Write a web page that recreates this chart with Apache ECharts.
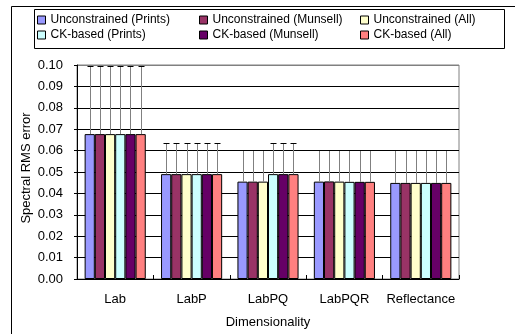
<!DOCTYPE html>
<html>
<head>
<meta charset="utf-8">
<script src="https://cdn.jsdelivr.net/npm/echarts@6/dist/echarts.min.js"></script>
<style>html,body{margin:0;padding:0;background:#fff;}#c{width:515px;height:334px;}</style>
</head>
<body>
<div id="c"></div>
<script>
const categories = ['Lab', 'LabP', 'LabPQ', 'LabPQR', 'Reflectance'];
const seriesNames = ['Unconstrained (Prints)', 'Unconstrained (Munsell)', 'Unconstrained (All)',
                     'CK-based (Prints)', 'CK-based (Munsell)', 'CK-based (All)'];
const colors = ['#9999FF', '#993366', '#FFFFCC', '#CCFFFF', '#660066', '#FF8080'];
// mean values
const unconPrints  = [0.0677, 0.0490, 0.0455, 0.0455, 0.0449];
const unconMunsell = [0.0677, 0.0490, 0.0455, 0.0456, 0.0449];
const unconAll     = [0.0677, 0.0490, 0.0455, 0.0455, 0.0449];
const ckPrints     = [0.0677, 0.0490, 0.0490, 0.0454, 0.0449];
const ckMunsell    = [0.0677, 0.0490, 0.0490, 0.0454, 0.0449];
const ckAll        = [0.0677, 0.0490, 0.0490, 0.0454, 0.0449];
// upper ends of error bars
const unconPrintsUp  = [0.0995, 0.0637, 0.0605, 0.0605, 0.0605];
const unconMunsellUp = [0.0995, 0.0637, 0.0605, 0.0605, 0.0605];
const unconAllUp     = [0.0995, 0.0637, 0.0605, 0.0605, 0.0605];
const ckPrintsUp     = [0.0995, 0.0637, 0.0637, 0.0605, 0.0605];
const ckMunsellUp    = [0.0995, 0.0637, 0.0637, 0.0605, 0.0605];
const ckAllUp        = [0.0995, 0.0637, 0.0637, 0.0605, 0.0605];
const yTicks = [0, 0.01, 0.02, 0.03, 0.04, 0.05, 0.06, 0.07, 0.08, 0.09, 0.10];

const values = [unconPrints, unconMunsell, unconAll, ckPrints, ckMunsell, ckAll];
const uppers = [unconPrintsUp, unconMunsellUp, unconAllUp, ckPrintsUp, ckMunsellUp, ckAllUp];
const FONT = "'Liberation Sans', Arial, sans-serif";
const N = seriesNames.length;
const catGap = 0.2;

const series = [];
values.forEach((vals, i) => {
  series.push({
    type: 'bar', name: seriesNames[i], data: vals,
    barGap: '0%', barCategoryGap: (catGap * 100) + '%',
    itemStyle: { color: colors[i], borderColor: '#000', borderWidth: 1 },
    z: 2
  });
});
values.forEach((vals, i) => {
  series.push({
    type: 'custom',
    data: categories.map((c, j) => [j, vals[j], uppers[i][j]]),
    renderItem: function (params, api) {
      const cat = api.value(0), lo = api.value(1), hi = api.value(2);
      const top = api.coord([cat, hi]);
      const bot = api.coord([cat, lo]);
      const bw = api.size([1, 0])[0] * (1 - catGap) / N;
      const x = Math.round(top[0] + (i - (N - 1) / 2) * bw) + 0.5;
      const yt = Math.round(top[1]) + 0.5;
      return {
        type: 'group', children: [
          { type: 'line', shape: { x1: x, y1: bot[1], x2: x, y2: yt }, style: { stroke: '#808080', lineWidth: 1 } },
          { type: 'line', shape: { x1: x - 3, y1: yt, x2: x + 3, y2: yt }, style: { stroke: '#000', lineWidth: 1 } }
        ]
      };
    },
    z: 3, silent: true
  });
});

const legendCommon = {
  orient: 'vertical', top: 14, itemWidth: 8, itemHeight: 8, itemGap: 3, padding: 0,
  icon: 'rect',
  textStyle: { fontFamily: FONT, fontSize: 12, color: '#000' },
  itemStyle: { borderColor: '#000', borderWidth: 1 }
};
const splitColors = yTicks.map((t, k) => k === yTicks.length - 1 ? '#808080' : '#000');

const chart = echarts.init(document.getElementById('c'), null, { renderer: 'canvas' });
chart.setOption({
  animation: false,
  backgroundColor: '#fff',
  color: colors,
  legend: [
    Object.assign({}, legendCommon, { left: 37, data: [seriesNames[0], seriesNames[3]] }),
    Object.assign({}, legendCommon, { left: 199, data: [seriesNames[1], seriesNames[4]] }),
    Object.assign({}, legendCommon, { left: 360, data: [seriesNames[2], seriesNames[5]] })
  ],
  grid: { left: 77, right: 56, top: 65, bottom: 55, show: true, borderColor: '#808080', borderWidth: 1, backgroundColor: '#fff' },
  xAxis: {
    type: 'category', data: categories,
    name: 'Dimensionality', nameLocation: 'middle', nameGap: 37, nameMoveOverlap: false,
    nameTextStyle: { fontFamily: FONT, fontSize: 13, color: '#000' },
    axisLine: { lineStyle: { color: '#000', width: 1 } },
    axisTick: { show: true, inside: true, length: 4, lineStyle: { color: '#000' } },
    axisLabel: { interval: 0, fontFamily: FONT, fontSize: 13, color: '#000', margin: 14 },
    splitLine: { show: false }
  },
  yAxis: {
    type: 'value', min: 0, max: 0.1, interval: 0.01,
    name: 'Spectral RMS error', nameLocation: 'middle', nameGap: 44, nameMoveOverlap: false,
    nameTextStyle: { fontFamily: FONT, fontSize: 13, color: '#000', padding: [0, 0, 0, 8] },
    axisLine: { show: true, lineStyle: { color: '#000', width: 1 } },
    axisTick: { show: true, inside: false, length: 3, lineStyle: { color: '#000' } },
    axisLabel: { fontFamily: FONT, fontSize: 13, color: '#000', margin: 14, formatter: v => v.toFixed(2) },
    splitLine: { show: true, lineStyle: { color: splitColors, width: 1 } }
  },
  graphic: [
    { type: 'line', shape: { x1: 11.5, y1: 6.5, x2: 515, y2: 6.5 }, style: { stroke: '#000', lineWidth: 1 }, silent: true },
    { type: 'line', shape: { x1: 11.5, y1: 6.5, x2: 11.5, y2: 334 }, style: { stroke: '#000', lineWidth: 1 }, silent: true },
    { type: 'rect', shape: { x: 34.5, y: 9.5, width: 470, height: 39 }, style: { fill: 'none', stroke: '#000', lineWidth: 1 }, silent: true, z: -1 }
  ],
  series: series
});
</script>
</body>
</html>
